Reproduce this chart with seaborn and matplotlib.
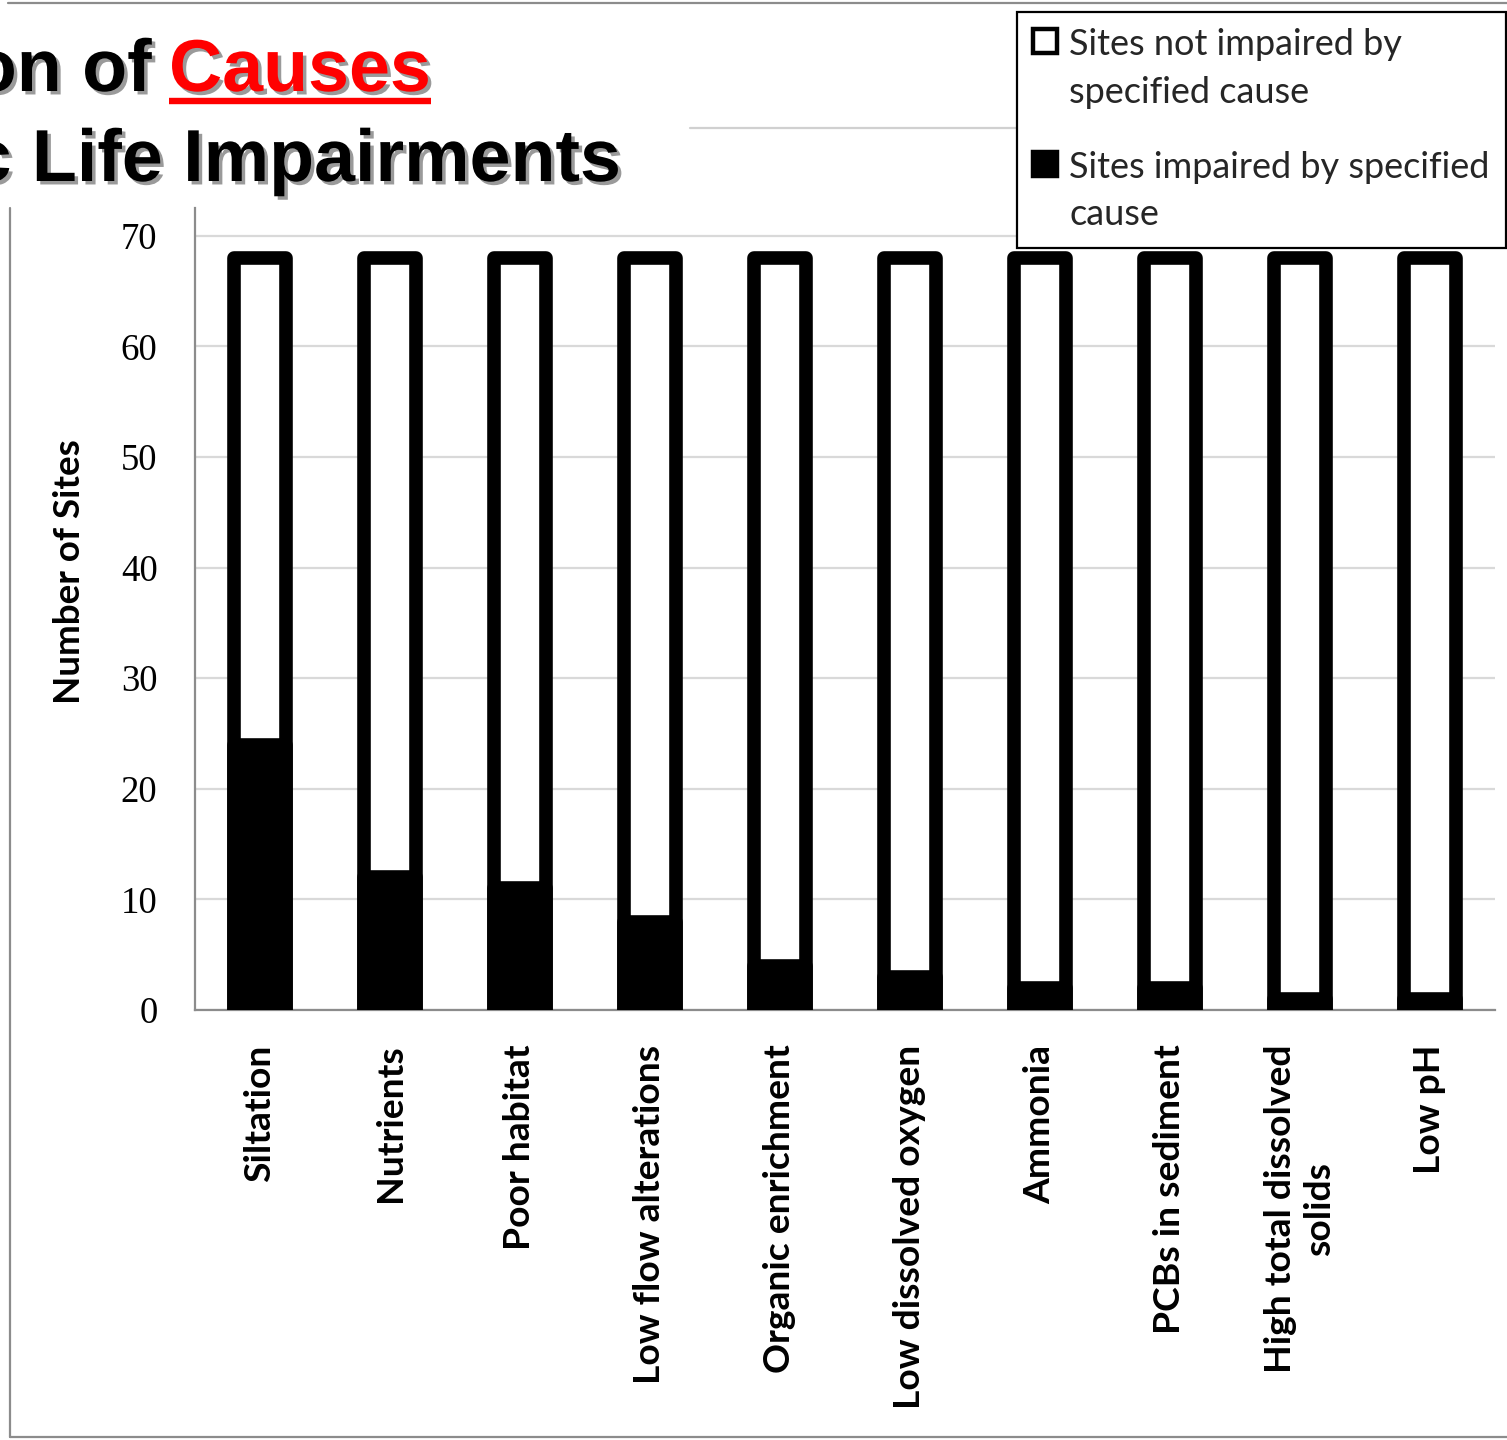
import matplotlib
matplotlib.use("Agg")
import matplotlib.pyplot as plt
import matplotlib.patheffects as pe
from matplotlib.lines import Line2D
from matplotlib.patches import Patch, Rectangle
from matplotlib.legend_handler import HandlerPatch
import numpy as np
import pandas as pd
import seaborn as sns

# ---- data -------------------------------------------------------------
causes = [
    "Siltation", "Nutrients", "Poor habitat", "Low flow alterations",
    "Organic enrichment", "Low dissolved oxygen", "Ammonia",
    "PCBs in sediment", "High total dissolved\nsolids", "Low pH",
]
impaired = [24, 12, 11, 8, 4, 3, 2, 2, 1, 1]
not_impaired = [44, 56, 57, 60, 64, 65, 66, 66, 67, 67]
y_ticks = [0, 10, 20, 30, 40, 50, 60, 70]
legend_labels = ["Sites not impaired by\nspecified cause",
                 "Sites impaired by specified\ncause"]

df = pd.DataFrame({"cause": causes, "impaired": impaired,
                   "not_impaired": not_impaired})
df["total"] = df["impaired"] + df["not_impaired"]

# ---- figure -----------------------------------------------------------
sns.set_theme(style="white")
W, H = 1507, 1440
fig = plt.figure(figsize=(W / 100, H / 100), dpi=100)
fig.patch.set_facecolor("white")

def fx(px):
    return px / W

def fy(py):
    return 1 - py / H

ax = fig.add_axes([fx(195), fy(1010), fx(1495) - fx(195), fy(208) - fy(1010)])
ax.set_facecolor("white")

edge_lw = 9.8
bar_w = 0.395
# whole column (white with heavy outline), then the impaired part in black
sns.barplot(data=df, x="cause", y="total", color="white", edgecolor="black",
            linewidth=edge_lw, width=bar_w, saturation=1, errorbar=None,
            ax=ax, zorder=3)
sns.barplot(data=df, x="cause", y="impaired", color="black", edgecolor="black",
            linewidth=edge_lw, width=bar_w, saturation=1, errorbar=None,
            ax=ax, zorder=3)
for p in ax.patches:
    p.set_joinstyle("round")

ax.set_xlim(-0.5, len(causes) - 0.5)
ax.set_ylim(0, 72.5)
ax.set_yticks(y_ticks)
ax.set_yticklabels([str(t) for t in y_ticks])
ax.yaxis.grid(True, color="#d9d9d9", linewidth=1.6)
ax.set_axisbelow(True)

for s in ("top", "right"):
    ax.spines[s].set_visible(False)
for s in ("left", "bottom"):
    ax.spines[s].set_color("#8c8c8c")
    ax.spines[s].set_linewidth(1.6)

ax.set_xticks(np.arange(len(causes)))
ax.set_xticklabels(causes, rotation=90, ha="center", va="top",
                   multialignment="center")
ax.set_xticks(np.arange(len(causes) + 1) - 0.5, minor=True)
ax.tick_params(axis="x", which="major", length=0, pad=25)
ax.tick_params(axis="x", which="minor", length=8, width=1.4,
               color="#8c8c8c", direction="out")
ax.tick_params(axis="y", which="major", length=11, width=1.4,
               color="#8c8c8c", direction="out", pad=16)

for lab in ax.get_xticklabels():
    lab.set_fontfamily("Lato")
    lab.set_fontweight("bold")
    lab.set_fontsize(26.8)
    lab.set_color("black")
for lab in ax.get_yticklabels():
    lab.set_fontfamily("Liberation Serif")
    lab.set_fontsize(26.5)
    lab.set_color("black")

ax.set_xlabel("")
ax.set_ylabel("Number of Sites", fontfamily="Lato", fontweight="bold",
              fontsize=26.5, color="black")
ax.yaxis.set_label_coords((86 - 195) / 1300, (1010 - 572) / 802)

# ---- legend -----------------------------------------------------------
def top_square(legend, orig_handle, xdescent, ydescent, width, height, fontsize):
    s = 0.66 * fontsize
    return Rectangle((-xdescent, 0.80 * fontsize), s, s)

handles = [Patch(facecolor="white", edgecolor="black", linewidth=3.2),
           Patch(facecolor="black", edgecolor="black", linewidth=3.2)]
leg = fig.legend(handles, legend_labels, loc="upper left",
                 bbox_to_anchor=(fx(1017), fy(12)),
                 prop={"family": "Lato", "size": 26},
                 frameon=True, fancybox=False, framealpha=1,
                 edgecolor="black", borderpad=0.45, labelspacing=1.15,
                 handlelength=0.7, handletextpad=0.3, borderaxespad=0,
                 handler_map={Patch: HandlerPatch(patch_func=top_square)})
leg.get_frame().set_linewidth(1.6)
for t in leg.get_texts():
    t.set_linespacing(1.55)

# ---- title ------------------------------------------------------------
shadow = [pe.SimplePatchShadow(offset=(2.5, -2.5), shadow_rgbFace="#9a9a9a",
                               alpha=1.0), pe.Normal()]
fig.text(fx(152), fy(91), "Distribution of", ha="right", va="baseline",
         fontfamily="Liberation Sans", fontweight="bold", fontsize=53,
         color="black", path_effects=shadow)
t_causes = fig.text(fx(169), fy(91), "Causes", ha="left", va="baseline",
                    fontfamily="Liberation Sans", fontweight="bold",
                    fontsize=53, color="#ff0000", path_effects=shadow)
fig.text(fx(621), fy(181), "Aquatic Life Impairments", ha="right",
         va="baseline", fontfamily="Liberation Sans", fontweight="bold",
         fontsize=53, color="black", path_effects=shadow)

fig.canvas.draw()
bb = t_causes.get_window_extent().transformed(fig.transFigure.inverted())
fig.add_artist(Line2D([bb.x0, bb.x1], [fy(101), fy(101)], color="#ff0000",
                      linewidth=4.6, solid_capstyle="butt",
                      path_effects=shadow))

# ---- frame lines ------------------------------------------------------
frame_c = "#8c8c8c"
fig.add_artist(Line2D([fx(8), 1], [fy(3), fy(3)], color=frame_c, lw=1.6))
fig.add_artist(Line2D([fx(690), fx(1017)], [fy(128), fy(128)],
                      color="#d0d0d0", lw=1.6))
fig.add_artist(Line2D([fx(10), fx(10)], [fy(208), fy(1437)], color=frame_c,
                      lw=1.6))
fig.add_artist(Line2D([fx(10), 1], [fy(1437), fy(1437)], color=frame_c,
                      lw=1.6))

fig.savefig("out.png", dpi=100, facecolor="white")
